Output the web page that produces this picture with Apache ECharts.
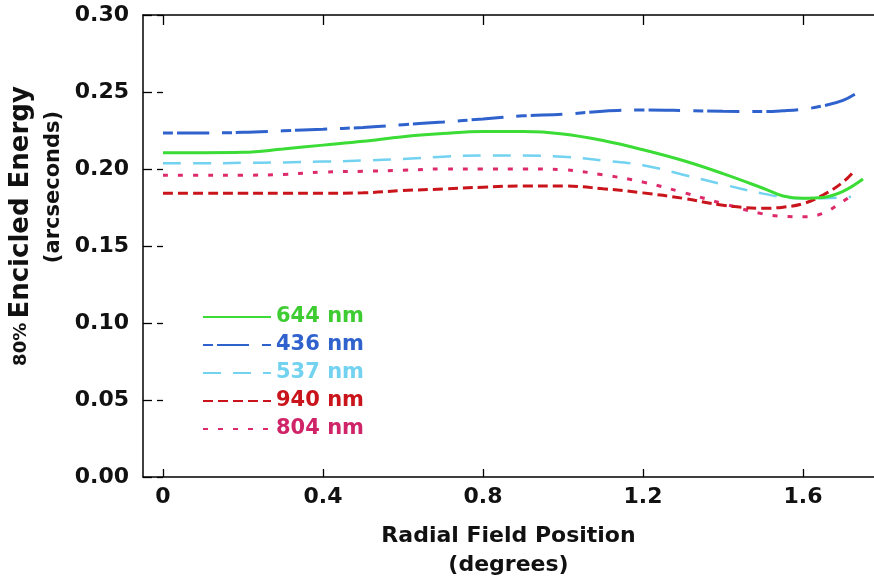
<!DOCTYPE html>
<html><head><meta charset="utf-8">
<script src="https://cdn.jsdelivr.net/npm/echarts@6/dist/echarts.min.js"></script>
<style>html,body{margin:0;padding:0;background:#fff}#c{width:874px;height:581px}</style>
</head><body><div id="c"></div>
<script>
// ---- data ----
const seriesNames = ['644 nm', '436 nm', '537 nm', '940 nm', '804 nm'];
const xTicks = [0, 0.4, 0.8, 1.2, 1.6];
const yTicks = [0, 0.05, 0.10, 0.15, 0.20, 0.25, 0.30];
const xBase = [0, 0.1, 0.2, 0.3, 0.4, 0.5, 0.6, 0.7, 0.8, 0.9, 1.0, 1.1, 1.2, 1.3, 1.4, 1.5, 1.55, 1.6, 1.65, 1.7];
const x644 = xBase.concat([1.75]);
const y644 = [0.2106, 0.2106, 0.2108, 0.213, 0.2155, 0.218, 0.221, 0.223, 0.2243, 0.2243, 0.2228, 0.2185, 0.2125, 0.2055, 0.197, 0.1875, 0.1825, 0.181, 0.1815, 0.1855, 0.1935];
const x436 = xBase.concat([1.74]);
const y436 = [0.2234, 0.2234, 0.2238, 0.2248, 0.2258, 0.227, 0.2288, 0.2305, 0.2325, 0.2345, 0.2355, 0.2375, 0.2383, 0.238, 0.2375, 0.2373, 0.2378, 0.2388, 0.241, 0.2445, 0.2502];
const x537 = xBase.concat([1.72]);
const y537 = [0.2037, 0.2037, 0.204, 0.2043, 0.2048, 0.2055, 0.2065, 0.208, 0.2088, 0.2087, 0.208, 0.2055, 0.2025, 0.1963, 0.19, 0.184, 0.1818, 0.181, 0.181, 0.1815, 0.182];
const x940 = xBase.concat([1.73]);
const y940 = [0.1842, 0.1842, 0.1842, 0.1842, 0.1842, 0.1845, 0.186, 0.187, 0.1882, 0.189, 0.189, 0.1872, 0.1845, 0.181, 0.1765, 0.1745, 0.1752, 0.1775, 0.1831, 0.1915, 0.1994];
const x804 = xBase.concat([1.72]);
const y804 = [0.196, 0.196, 0.196, 0.1965, 0.198, 0.1985, 0.1992, 0.2, 0.2, 0.2, 0.1995, 0.1962, 0.1915, 0.1848, 0.1775, 0.1708, 0.1693, 0.169, 0.1712, 0.179, 0.1825];

function pairs(xs, ys) { return xs.map((x, i) => [x, ys[i]]); }

const FONT = 'DejaVu Sans';
const colors = ['#3cdc36', '#2f62cc', '#72d2f0', '#c8141a', '#dc2a6a'];
const textColors = ['#3fcc33', '#2f62cc', '#72d2f0', '#c8141a', '#d02468'];
const styles = [
  { type: 'solid', width: 3 },
  { type: [10, 4, 32, 13], width: 3 },
  { type: [18, 12], width: 2.5 },
  { type: [10, 5], width: 3 },
  { type: [5, 10], width: 3 }
];
const datasets = [pairs(x644, y644), pairs(x436, y436), pairs(x537, y537), pairs(x940, y940), pairs(x804, y804)];

const chart = echarts.init(document.getElementById('c'), null, { renderer: 'canvas' });
const tickLabel = { fontFamily: FONT, fontWeight: 'bold', fontSize: 22, color: '#111' };

chart.setOption({
  backgroundColor: '#ffffff',
  animation: false,
  grid: { left: 143, right: 0, top: 15, bottom: 104, containLabel: false, outerBoundsMode: 'none' },
  legend: {
    orient: 'vertical', left: 202, top: 306, padding: 0,
    itemWidth: 68, itemHeight: 14, itemGap: 6,
    itemStyle: { opacity: 0 },
    textStyle: { fontFamily: FONT, fontWeight: 'bold', fontSize: 21, lineHeight: 22 },
    data: seriesNames.map((n, i) => ({ name: n, itemStyle: { opacity: 0 }, textStyle: { color: textColors[i] } }))
  },
  xAxis: [{
    type: 'value', min: -0.05, max: 1.7775, position: 'bottom',
    axisLine: { show: true, onZero: false, lineStyle: { color: '#000', width: 1.5 } },
    axisTick: { show: true, inside: true, length: 8, customValues: xTicks, lineStyle: { color: '#000', width: 1.3 } },
    axisLabel: { show: true, margin: 9, customValues: xTicks, formatter: v => String(Math.round(v * 10) / 10), ...tickLabel },
    splitLine: { show: false },
    name: 'Radial Field Position\n(degrees)', nameLocation: 'middle', nameGap: 45,
    nameTextStyle: { fontFamily: FONT, fontWeight: 'bold', fontSize: 22, lineHeight: 29, color: '#111' }
  }, {
    type: 'value', min: -0.05, max: 1.7775, position: 'top',
    axisLine: { show: true, onZero: false, lineStyle: { color: '#000', width: 1.5 } },
    axisTick: { show: true, inside: true, length: 10, customValues: xTicks, lineStyle: { color: '#000', width: 1.3 } },
    axisLabel: { show: false }, splitLine: { show: false }
  }],
  yAxis: [{
    type: 'value', min: 0, max: 0.30, interval: 0.05, position: 'left',
    axisLine: { show: true, onZero: false, lineStyle: { color: '#000', width: 1.5 } },
    axisTick: { show: true, inside: true, length: 9, lineStyle: { color: '#000', width: 1.3 } },
    axisLabel: { show: true, margin: 14, formatter: v => v.toFixed(2), ...tickLabel },
    splitLine: { show: false },
    name: '{a|80%} {b|Encicled Energy}\n{c|(arcseconds)}', nameLocation: 'middle', nameGap: 47, nameRotate: 90,
    nameTextStyle: {
      color: '#111', fontFamily: FONT, fontWeight: 'bold', padding: [0, 0, 0, 40],
      rich: {
        a: { fontFamily: FONT, fontWeight: 'bold', fontSize: 18, color: '#111', lineHeight: 32 },
        b: { fontFamily: FONT, fontWeight: 'bold', fontSize: 26, color: '#111', lineHeight: 32 },
        c: { fontFamily: FONT, fontWeight: 'bold', fontSize: 21, color: '#111', lineHeight: 32, padding: [0, 0, 0, 78] }
      }
    }
  }, {
    type: 'value', min: 0, max: 0.30, interval: 0.05, position: 'right',
    axisLine: { show: false },
    axisTick: { show: true, inside: true, length: 6, lineStyle: { color: '#000', width: 1.3 } },
    axisLabel: { show: false }, splitLine: { show: false }
  }],
  series: seriesNames.map((n, i) => ({
    name: n, type: 'line', data: datasets[i], smooth: 0.4,
    symbol: 'none', showSymbol: false,
    xAxisIndex: 0, yAxisIndex: 0,
    lineStyle: { color: colors[i], width: styles[i].width, type: styles[i].type, cap: 'butt' },
    itemStyle: { color: colors[i] },
    z: 5 - i
  }))
});
</script></body></html>
